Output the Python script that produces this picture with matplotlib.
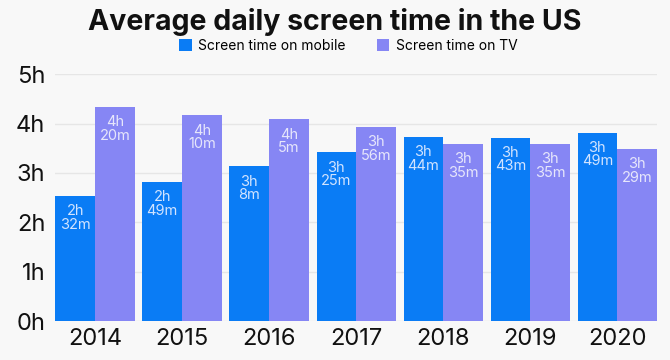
import matplotlib.pyplot as plt
import numpy as np

plt.rcParams['font.family'] = ['Inter', 'DejaVu Sans']

years = ['2014', '2015', '2016', '2017', '2018', '2019', '2020']
# minutes per day
mobile = [2*60+32, 2*60+49, 3*60+8, 3*60+25, 3*60+44, 3*60+43, 3*60+49]
tv = [4*60+20, 4*60+10, 4*60+5, 3*60+56, 3*60+35, 3*60+35, 3*60+29]

c_mobile = '#0a7cf5'
c_tv = '#8686f4'
bg = '#f8f8f8'


def fmt(m):
    return '%dh\n%dm' % (m // 60, m % 60)


fig = plt.figure(figsize=(6.7, 3.6), dpi=100, facecolor=bg)
ax = fig.add_axes([0.082, 0.108, 0.899, 0.686], facecolor=bg)

x = np.arange(len(years))
w = 0.455
b1 = ax.bar(x - w/2, np.array(mobile) / 60, w, color=c_mobile, label='Screen time on mobile', zorder=3)
b2 = ax.bar(x + w/2, np.array(tv) / 60, w, color=c_tv, label='Screen time on TV', zorder=3)

for bars, vals, tc in [(b1, mobile, '#d2e4ff'), (b2, tv, '#e6e6fb')]:
    for r, v in zip(bars, vals):
        ax.annotate(fmt(v), (r.get_x() + r.get_width()/2, r.get_height()),
                    xytext=(0, -6), textcoords='offset points',
                    ha='center', va='top', fontsize=10.5, color=tc,
                    linespacing=0.95, zorder=4)

ax.set_xlim(-0.46, 6.46)
ax.set_ylim(0, 5)
ax.set_yticks(range(6))
ax.set_yticklabels(['%dh' % i for i in range(6)])
ax.set_xticks(x)
ax.set_xticklabels(years)
ax.tick_params(axis='both', length=0, labelsize=17, colors='#111111')
ax.tick_params(axis='y', pad=7)
ax.tick_params(axis='x', pad=5)
ax.grid(axis='y', color='#e6e6e6', linewidth=1, zorder=0)
for s in ax.spines.values():
    s.set_visible(False)

fig.text(0.5, 0.94, 'Average daily screen time in the US', ha='center', va='center',
         fontsize=20.5, fontweight='bold', color='#111111')
fig.legend(handles=[b1, b2], loc='center', bbox_to_anchor=(0.52, 0.873), ncol=2,
           frameon=False, fontsize=10, handlelength=0.9, handleheight=0.9,
           handletextpad=0.5, columnspacing=2.2)

fig.savefig('out.png', dpi=100, facecolor=bg)
